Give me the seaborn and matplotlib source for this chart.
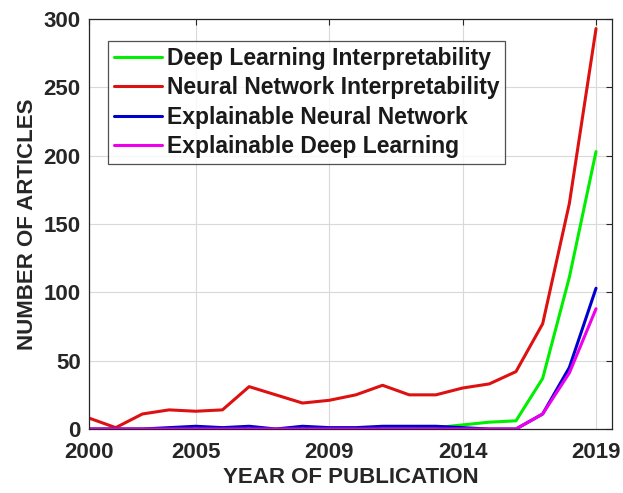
import matplotlib
matplotlib.use("Agg")
import matplotlib.pyplot as plt
import pandas as pd
import seaborn as sns

# values
years = list(range(2000, 2020))
deep_interp = [0, 0, 0, 0, 0, 0, 0, 0, 0, 0, 0, 0, 0, 1, 3, 5, 6, 37, 111, 203]
nn_interp = [8, 1, 11, 14, 13, 14, 31, 25, 19, 21, 25, 32, 25, 25, 30, 33, 42, 77, 165, 293]
expl_nn = [0, 0, 0, 1, 2, 1, 2, 0, 2, 1, 1, 2, 2, 2, 1, 0, 0, 11, 45, 103]
expl_dl = [0, 0, 0, 0, 0, 0, 0, 0, 0, 0, 0, 0, 0, 0, 0, 0, 0, 11, 41, 88]

series_names = ["Deep Learning Interpretability", "Neural Network Interpretability",
                "Explainable Neural Network", "Explainable Deep Learning"]
series_colors = ["#00ee00", "#dd1111", "#0000cc", "#ee00ee"]

# tick labels as printed on the original figure
tick_pos = [2000, 2004, 2009, 2014, 2019]
tick_labels = ["2000", "2005", "2009", "2014", "2019"]

df = pd.DataFrame({
    "year": years * 4,
    "count": deep_interp + nn_interp + expl_nn + expl_dl,
    "series": sum([[n] * len(years) for n in series_names], []),
})

sns.set_style("white")
plt.rcParams["font.family"] = ["Liberation Sans", "DejaVu Sans"]

fig = plt.figure(figsize=(6.23, 4.93), dpi=100)
ax = fig.add_axes([0.1429, 0.1298, 0.8395, 0.8316])

sns.lineplot(data=df, x="year", y="count", hue="series", hue_order=series_names,
             palette=series_colors, linewidth=2.2, ax=ax)

ax.set_xlim(2000, 2019.6)
ax.set_ylim(0, 300)
ax.set_xticks(tick_pos)
ax.set_xticklabels(tick_labels)
ax.set_yticks(range(0, 301, 50))
ax.grid(True, color="#d9d9d9", linewidth=0.8)
ax.tick_params(direction="in", length=4, top=True, right=True, colors="#262626",
               labelsize=16)
ax.tick_params(axis="x", pad=9)
ax.tick_params(axis="y", pad=6)
for lbl in ax.get_xticklabels() + ax.get_yticklabels():
    lbl.set_fontweight("bold")
for sp in ax.spines.values():
    sp.set_color("#262626")
    sp.set_linewidth(0.9)

ax.set_xlabel("YEAR OF PUBLICATION", fontsize=16, fontweight="bold", color="#262626", labelpad=3)
ax.set_ylabel("NUMBER OF ARTICLES", fontsize=16, fontweight="bold", color="#262626", labelpad=4)

leg = ax.legend(loc="upper left", bbox_to_anchor=(0.036, 0.946), borderaxespad=0,
                frameon=True, fancybox=False, prop={"weight": "bold", "size": 16.5},
                handlelength=2.1, handletextpad=0.22, labelspacing=0.28, borderpad=0.25)
leg.get_frame().set_edgecolor("#262626")
leg.get_frame().set_linewidth(0.9)
for t in leg.get_texts():
    t.set_color("#1a1a1a")

fig.savefig("out.png", dpi=100)
